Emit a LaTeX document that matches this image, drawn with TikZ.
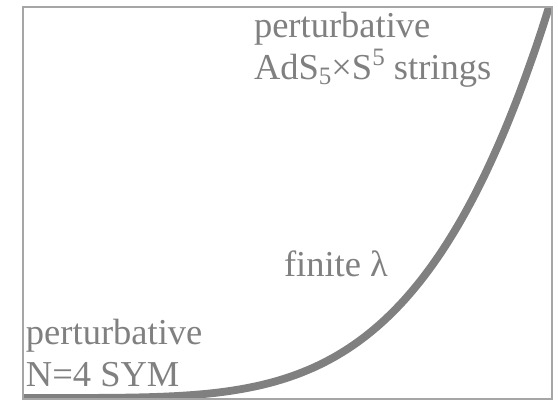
\documentclass[tikz,border=0pt]{standalone}
\usepackage{fontspec}
\setmainfont{Liberation Serif}
\begin{document}
\begin{tikzpicture}[x=1pt,y=1pt,
  label text/.style={inner sep=0pt, outer sep=0pt, anchor=base west, align=left,
    text=labelgray, font=\fontsize{36.5}{42}\selectfont},
  frame line/.style={draw=framegray, line width=1.2pt},
  flow curve/.style={draw=curvegray, line width=7.8pt}]
\definecolor{labelgray}{HTML}{808080}
\definecolor{framegray}{HTML}{A6A6A6}
\definecolor{curvegray}{HTML}{808080}
\useasboundingbox (0,0) rectangle (558,401);
% frame corners
\coordinate (bl) at (23,2);
\coordinate (tr) at (552,394);
% the crossover curve (a steep power law), clipped to the frame
\begin{scope}
  \clip (bl) rectangle (tr);
  \draw[flow curve] plot[domain=0:540, samples=160, smooth]
    ({23+\x}, {3+391*(\x/526)^4.3});
\end{scope}
\draw[frame line] (bl) rectangle (tr);
% labels (anchored at the baseline of their last line)
\node[label text] (strong) at (254,321) {perturbative\\AdS{\fontsize{25}{25}\selectfont\raisebox{-5pt}{5}}×S{\fontsize{25}{25}\selectfont\raisebox{14pt}{5}} strings};
\node[label text] (mid) at (284,124) {finite λ};
\node[label text] (weak) at (26,14) {perturbative\\N=4 SYM};
\end{tikzpicture}
\end{document}
